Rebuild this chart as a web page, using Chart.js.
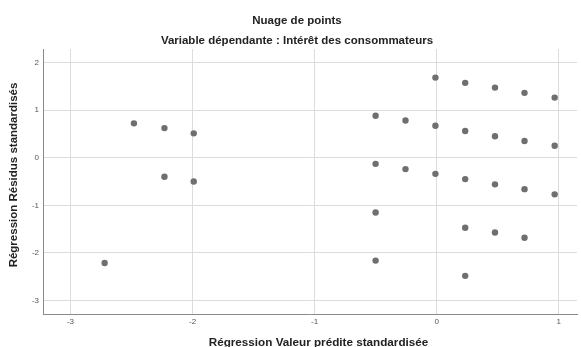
<!DOCTYPE html>
<html>
<head>
<meta charset="utf-8">
<script src="https://cdn.jsdelivr.net/npm/chart.js@4"></script>
<style>
  body { margin: 0; background: #fff; }
</style>
</head>
<body>
<canvas id="scatterChart" width="581" height="347"></canvas>
<script>
// predicted values (standardised) and residuals (standardised)
const predicted = [-2.72, -2.48, -2.23, -2.23, -1.99, -1.99,
    -0.50, -0.50, -0.50, -0.50, -0.255, -0.255, -0.01, -0.01, -0.01,
    0.234, 0.234, 0.234, 0.234, 0.234, 0.478, 0.478, 0.478, 0.478,
    0.72, 0.72, 0.72, 0.72, 0.967, 0.967, 0.967];
const residuals = [-2.21, 0.72, 0.62, -0.40, 0.51, -0.50,
    0.88, -0.13, -1.15, -2.16, 0.78, -0.24, 1.68, 0.67, -0.34,
    1.57, 0.56, -0.45, -1.47, -2.48, 1.47, 0.45, -0.56, -1.57,
    1.36, 0.35, -0.66, -1.68, 1.26, 0.25, -0.77];
const xTicks = [-3, -2, -1, 0, 1];
const yTicks = [-3, -2, -1, 0, 1, 2];
const xTitle = 'Régression Valeur prédite standardisée';
const yTitle = 'Régression Résidus standardisés';

const points = predicted.map((x, i) => ({ x: x, y: residuals[i] }));
const font = "'Liberation Sans', Arial, sans-serif";

// axis titles drawn by hand, SPSS puts them a bit off-centre
const axisTitles = {
    id: 'axisTitles',
    afterDraw(chart) {
        const c = chart.ctx;
        const area = chart.chartArea;
        c.save();
        c.fillStyle = '#222';
        c.font = 'bold 11.7px ' + font;
        c.textAlign = 'center';
        c.textBaseline = 'middle';
        c.fillText(xTitle, (area.left + area.right) / 2 + 8.5, chart.height - 4.5);
        c.translate(14, (area.top + area.bottom) / 2 - 6.5);
        c.rotate(-Math.PI / 2);
        c.font = 'bold 11.5px ' + font;
        c.fillText(yTitle, 0, 0);
        c.restore();
    }
};

const ctx = document.getElementById('scatterChart').getContext('2d');
new Chart(ctx, {
    type: 'scatter',
    data: {
        datasets: [{
            data: points,
            backgroundColor: '#6f6f6f',
            borderWidth: 0,
            pointRadius: 3.2
        }]
    },
    options: {
        responsive: false,
        animation: false,
        layout: { padding: { left: 14, right: 1 } },
        plugins: {
            legend: { display: false },
            tooltip: { enabled: false },
            title: {
                display: true,
                text: 'Nuage de points',
                color: '#222',
                font: { family: font, size: 11.5, weight: 'bold' },
                padding: { top: 14, bottom: 5 }
            },
            subtitle: {
                display: true,
                text: 'Variable dépendante : Intérêt des consommateurs',
                color: '#222',
                font: { family: font, size: 11.5, weight: 'bold' },
                padding: { top: 1.6, bottom: 0.8 }
            }
        },
        scales: {
            x: {
                type: 'linear',
                min: -3.225,
                max: 1.15,
                afterBuildTicks: s => { s.ticks = xTicks.map(v => ({ value: v })); },
                afterFit: s => { s.height = 33; },
                grid: { color: '#dcdcdc', drawTicks: false },
                border: { color: '#8a8a8a', width: 1 },
                ticks: { color: '#555', padding: 3, font: { family: font, size: 8 } }
            },
            y: {
                type: 'linear',
                min: -3.28,
                max: 2.28,
                afterBuildTicks: s => { s.ticks = yTicks.map(v => ({ value: v })); },
                afterFit: s => { s.width = 29; },
                grid: { color: '#dcdcdc', drawTicks: false },
                border: { color: '#8a8a8a', width: 1 },
                ticks: { color: '#555', padding: 4, font: { family: font, size: 8 } }
            }
        }
    },
    plugins: [axisTitles]
});
</script>
</body>
</html>
